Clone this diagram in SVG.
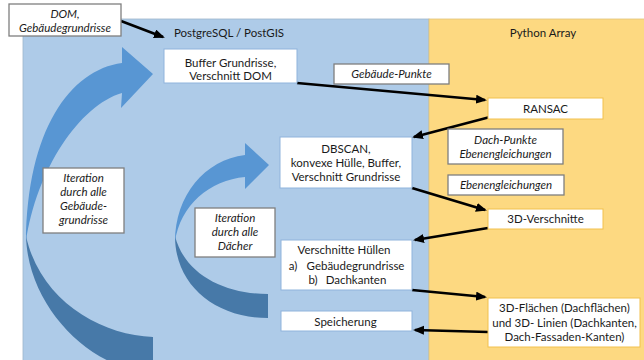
<svg xmlns="http://www.w3.org/2000/svg" width="644" height="360" viewBox="0 0 644 360">
<defs>
<style>
.t{font-family:Lato,"Liberation Sans",sans-serif;font-size:11.5px;fill:#1a1a1a;text-anchor:middle}
.i{font-style:italic}
.nb{fill:#fff;stroke:#8fb4dc;stroke-width:1}
.ny{fill:#fff;stroke:#f2c14e;stroke-width:1}
.lb{fill:#fff;stroke:#7f7f7f;stroke-width:1.3}
.c{fill:none;stroke:#000;stroke-width:2.6;marker-end:url(#ah)}
.lt{fill:#5896d3}
.dk{fill:#4779a8}
</style>
<marker id="ah" markerUnits="userSpaceOnUse" markerWidth="12" markerHeight="10" refX="9" refY="4.5" orient="auto">
<path d="M0,0 L11,4.5 L0,9 z" fill="#000"/>
</marker>
</defs>
<rect x="0" y="0" width="644" height="360" fill="#fff"/>
<g id="lanes">
<rect x="23" y="19" width="406" height="345" fill="#aecbe8" stroke="#9fb6cc" stroke-width="0.8"/>
<rect x="429" y="19" width="220" height="345" fill="#fdd981" stroke="#e0c37a" stroke-width="0.8"/>
<text class="t" x="229" y="37">PostgreSQL / PostGIS</text>
<text class="t" x="543" y="37">Python Array</text>
</g>
<g id="iter-big">
<path class="dk" d="M26,236 C28,310 95,372 153,372 L153,337 C100,335 40,300 26,236 Z"/>
<path class="lt" d="M122,63 C70,70 27,130 26,242 C36,170 80,105 122,93 L121,108 L153,74 L122,47 Z"/>
</g>
<g id="iter-small">
<path class="dk" d="M175,236 C175,285 215,318 268,318 L268,294 C225,294 185,275 175,236 Z"/>
<path class="lt" d="M245,155 C205,160 175,195 175,242 C180,205 210,180 245,177 L245,189 L269,165 L245,143 Z"/>
</g>
<g id="connectors">
<path class="c" d="M121,21 L163,37"/>
<path class="c" d="M297,83 L485,100"/>
<path class="c" d="M490,117 L414,137"/>
<path class="c" d="M412,188 L485,210"/>
<path class="c" d="M488,228 L415,240"/>
<path class="c" d="M412,290 L485,297"/>
<path class="c" d="M488,332 L415,330"/>
</g>
<g id="n-input">
<rect class="lb" x="9" y="4" width="112" height="32"/>
<text class="t i" x="65" y="18">DOM,</text>
<text class="t i" x="65" y="32">Gebäudegrundrisse</text>
</g>
<g id="n-buffer">
<rect class="nb" x="164" y="49" width="133" height="34"/>
<text class="t" x="230.5" y="67">Buffer Grundrisse,</text>
<text class="t" x="230.5" y="80">Verschnitt DOM</text>
</g>
<g id="l-gebpunkte">
<rect class="lb" x="334" y="64" width="115" height="20"/>
<text class="t i" x="391.5" y="78">Gebäude-Punkte</text>
</g>
<g id="n-ransac">
<rect class="ny" x="488" y="98" width="115" height="21"/>
<text class="t" x="545.5" y="113">RANSAC</text>
</g>
<g id="l-dachpunkte">
<rect class="lb" x="448" y="129" width="115" height="35"/>
<text class="t i" x="505.5" y="144">Dach-Punkte</text>
<text class="t i" x="505.5" y="158">Ebenengleichungen</text>
</g>
<g id="l-ebenen">
<rect class="lb" x="448" y="175" width="116" height="20"/>
<text class="t i" x="506" y="189">Ebenengleichungen</text>
</g>
<g id="n-dbscan">
<rect class="nb" x="280" y="137" width="132" height="51"/>
<text class="t" x="346" y="153">DBSCAN,</text>
<text class="t" x="346" y="167">konvexe Hülle, Buffer,</text>
<text class="t" x="346" y="181">Verschnitt Grundrisse</text>
</g>
<g id="n-3dverschnitte">
<rect class="ny" x="488" y="209" width="115" height="20"/>
<text class="t" x="545.5" y="223">3D-Verschnitte</text>
</g>
<g id="l-iter-big">
<rect class="lb" x="43" y="168" width="81" height="65"/>
<text class="t i" x="83.5" y="182">Iteration</text>
<text class="t i" x="83.5" y="196">durch alle</text>
<text class="t i" x="83.5" y="210">Gebäude-</text>
<text class="t i" x="83.5" y="224">grundrisse</text>
</g>
<g id="l-iter-small">
<rect class="lb" x="195" y="208" width="80" height="49"/>
<text class="t i" x="235" y="222">Iteration</text>
<text class="t i" x="235" y="236">durch alle</text>
<text class="t i" x="235" y="250">Dächer</text>
</g>
<g id="n-huellen">
<rect class="nb" x="281" y="240" width="131" height="50"/>
<text class="t" x="344" y="254">Verschnitte Hüllen</text>
<text class="t" x="293" y="270">a)</text>
<text class="t" x="355.5" y="270">Gebäudegrundrisse</text>
<text class="t" x="313" y="284">b)</text>
<text class="t" x="356" y="284">Dachkanten</text>
</g>
<g id="n-speicherung">
<rect class="nb" x="281" y="311" width="131" height="20"/>
<text class="t" x="345.5" y="326">Speicherung</text>
</g>
<g id="n-3dflaechen">
<rect class="ny" x="488" y="298" width="152" height="49"/>
<text class="t" x="564.5" y="312">3D-Flächen (Dachflächen)</text>
<text class="t" x="564.5" y="327">und 3D- Linien (Dachkanten,</text>
<text class="t" x="564.5" y="341">Dach-Fassaden-Kanten)</text>
</g>
</svg>
